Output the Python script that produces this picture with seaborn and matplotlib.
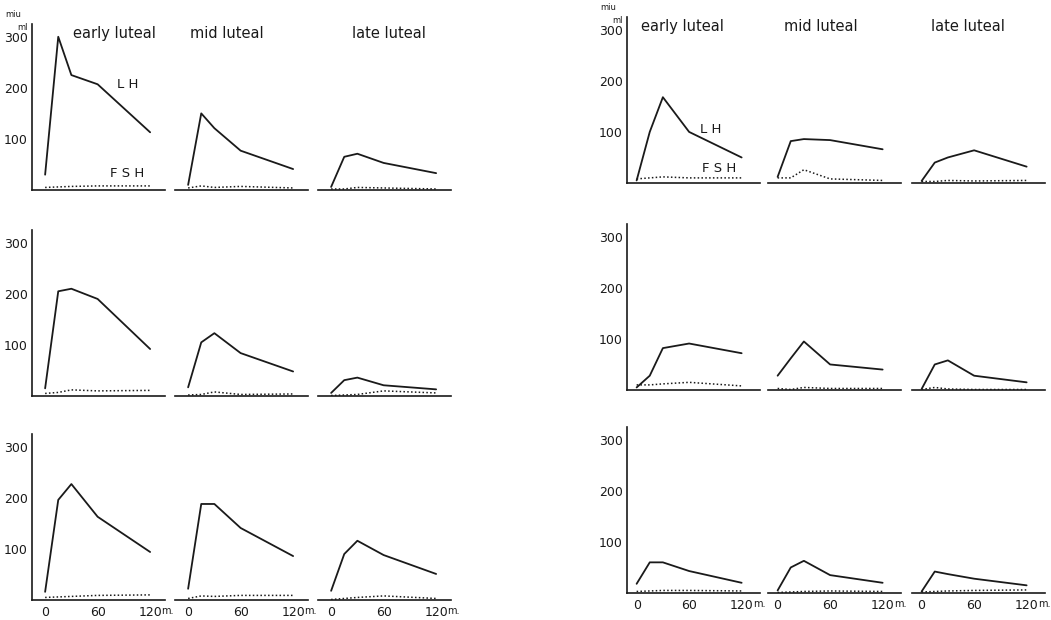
import numpy as np
import pandas as pd
import matplotlib
matplotlib.use("Agg")
import matplotlib.pyplot as plt
import seaborn as sns

minutes = [0, 15, 30, 60, 120]
phases = ["early luteal", "mid luteal", "late luteal"]

# left figure, one list per row: [early, mid, late]
lh_left_1 = [[30, 300, 225, 207, 113], [10, 150, 121, 77, 41], [6, 65, 71, 53, 33]]
fsh_left_1 = [[5, 6, 7, 8, 8], [4, 8, 5, 7, 4], [2, 2, 5, 4, 2]]
lh_left_2 = [[15, 205, 210, 190, 92], [17, 105, 123, 84, 48], [6, 31, 36, 21, 13]]
fsh_left_2 = [[5, 7, 12, 10, 11], [2, 3, 8, 3, 4], [1, 2, 3, 10, 6]]
lh_left_3 = [[16, 196, 227, 163, 94], [22, 188, 188, 141, 86], [18, 90, 116, 88, 51]]
fsh_left_3 = [[5, 6, 7, 9, 10], [3, 8, 7, 9, 9], [1, 3, 5, 8, 3]]

# right figure
lh_right_1 = [[5, 100, 168, 100, 50], [12, 82, 86, 84, 66], [4, 40, 50, 64, 32]]
fsh_right_1 = [[8, 10, 12, 10, 10], [10, 10, 26, 8, 5], [3, 3, 5, 4, 5]]
lh_right_2 = [[5, 28, 82, 91, 72], [28, 62, 95, 50, 40], [2, 50, 58, 28, 15]]
fsh_right_2 = [[10, 10, 12, 15, 8], [3, 1, 5, 3, 3], [1, 5, 2, 1, 1]]
lh_right_3 = [[18, 60, 60, 43, 20], [5, 50, 63, 35, 20], [3, 42, 37, 28, 15]]
fsh_right_3 = [[3, 4, 5, 5, 4], [1, 2, 3, 4, 3], [2, 3, 4, 5, 6]]

y_ticks = [100, 200, 300]

rows = []
for panel, lh_rows, fsh_rows in [
    ("left", [lh_left_1, lh_left_2, lh_left_3], [fsh_left_1, fsh_left_2, fsh_left_3]),
    ("right", [lh_right_1, lh_right_2, lh_right_3], [fsh_right_1, fsh_right_2, fsh_right_3]),
]:
    for r in range(3):
        for c, phase in enumerate(phases):
            for t, lh, fsh in zip(minutes, lh_rows[r][c], fsh_rows[r][c]):
                rows.append(dict(panel=panel, row=r, phase=phase, minute=t, hormone="LH", value=lh))
                rows.append(dict(panel=panel, row=r, phase=phase, minute=t, hormone="FSH", value=fsh))
df = pd.DataFrame(rows)

sns.set_style("white")
plt.rcParams["font.family"] = ["DejaVu Sans"]
ink = "#1a1a1a"

W, H = 1051, 620
fig = plt.figure(figsize=(W / 100, H / 100), dpi=100)

# pixel layout of each panel: axis left edges, baselines, x-limit start,
# title x positions (axes fraction) and title height
layout = {
    "left": dict(lefts=[32, 175, 318], bases=[190, 396, 600], x0=-15,
                 title_x=[0.62, 0.39, 0.53], title_y=0.945,
                 lh_xy=(82, 206), fsh_xy=(74, 33), unit_x=-0.2),
    "right": dict(lefts=[627, 768, 912], bases=[183, 390, 593], x0=-11,
                  title_x=[0.42, 0.40, 0.42], title_y=0.94,
                  lh_xy=(72, 104), fsh_xy=(75, 29), unit_x=-0.2),
}
ax_w, ax_h = 133, 166  # pixels, ylim 0..325

for panel, lay in layout.items():
    for r in range(3):
        for c, phase in enumerate(phases):
            left = lay["lefts"][c]
            base = lay["bases"][r]
            ax = fig.add_axes([left / W, 1 - base / H, ax_w / W, ax_h / H])
            sub = df[(df.panel == panel) & (df.row == r) & (df.phase == phase)]
            sns.lineplot(data=sub[sub.hormone == "LH"], x="minute", y="value",
                         color=ink, lw=1.3, ax=ax, legend=False)
            sns.lineplot(data=sub[sub.hormone == "FSH"], x="minute", y="value",
                         color=ink, lw=1.1, ls=(0, (1, 1.5)), ax=ax, legend=False)
            ax.set_xlim(lay["x0"], lay["x0"] + ax_w / 0.875)
            ax.set_ylim(0, 325)
            ax.set_xlabel("")
            ax.set_ylabel("")
            for s in ["top", "right"]:
                ax.spines[s].set_visible(False)
            ax.spines["bottom"].set_color(ink)
            ax.spines["bottom"].set_linewidth(1.2)
            ax.set_xticks(minutes)
            ax.tick_params(axis="x", direction="out", length=3, width=1,
                           color=ink, labelsize=9, labelcolor=ink, pad=1)
            if r == 2:
                ax.set_xticklabels(["0", "", "", "60", "120"])
                ax.text(133, -21, "m.", fontsize=7, color=ink, ha="left",
                        va="center", clip_on=False)
            else:
                ax.set_xticklabels([])
            if c == 0:
                ax.spines["left"].set_color(ink)
                ax.spines["left"].set_linewidth(1.2)
                ax.set_yticks(y_ticks)
                ax.tick_params(axis="y", direction="out", length=2, width=1,
                               color=ink, labelsize=9, labelcolor=ink, pad=1)
            else:
                ax.spines["left"].set_visible(False)
                ax.set_yticks([])
            ax.set_facecolor("none")

            if r == 0:
                ax.text(lay["title_x"][c], lay["title_y"], phase,
                        transform=ax.transAxes, ha="center", va="center",
                        fontsize=10.5, color=ink)
                if c == 0:
                    ax.text(*lay["lh_xy"], "L H", fontsize=9.5, color=ink, va="center")
                    ax.text(*lay["fsh_xy"], "F S H", fontsize=9.5, color=ink, va="center")
                    ax.text(lay["unit_x"], 1.055, "miu", transform=ax.transAxes,
                            fontsize=6, color=ink, va="center")
                    ax.text(lay["unit_x"] + 0.09, 0.98, "ml", transform=ax.transAxes,
                            fontsize=6, color=ink, va="center")

fig.savefig("out.png", dpi=100, facecolor="white")
